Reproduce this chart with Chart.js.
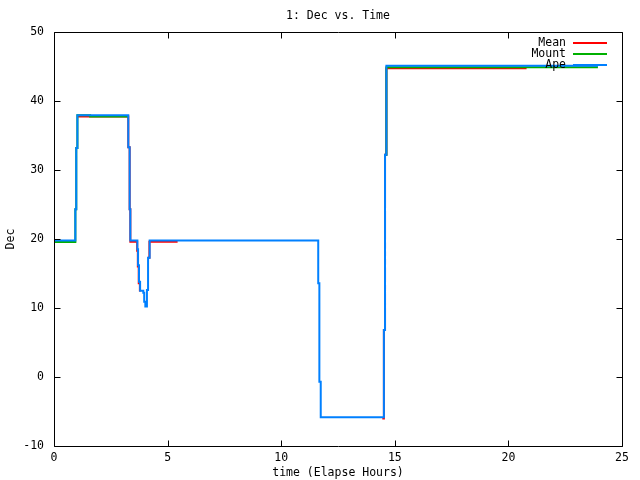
<!DOCTYPE html>
<html>
<head>
<meta charset="utf-8">
<script src="https://cdn.jsdelivr.net/npm/chart.js@4.4.0/dist/chart.umd.min.js"></script>
<style>
html,body{margin:0;padding:0;background:#fff;}
#wrap{width:640px;height:480px;}
</style>
</head>
<body>
<div id="wrap"><canvas id="c" width="640" height="480"></canvas></div>
<script>
const chartTitle = "1: Dec vs. Time";
const xTitle = "time (Elapse Hours)";
const yTitle = "Dec";
const seriesNames = ["Mean", "Mount", "Ape"];
const seriesColors = ["#ff0000", "#00b000", "#0080ff"];

// Ape (blue) — time (hours) and Dec at each change
const apeTime = [0, 0.94, 0.98, 1.03, 3.27, 3.33, 3.36, 3.67, 3.70, 3.74, 3.79, 3.93, 3.97, 4.02, 4.09, 4.14, 4.21, 11.63, 11.68, 11.74, 14.52, 14.57, 14.63, 23.94];
const apeDec  = [19.8, 24.3, 33.2, 37.95, 33.3, 24.3, 19.8, 18.5, 16.2, 13.8, 12.5, 12.2, 10.9, 10.2, 12.6, 17.3, 19.8, 13.6, -0.7, -5.85, 6.8, 32.2, 45.1, 45.1];

// Mount (green); null = no data
const mountTime = [0, 0.94, 0.98, 1.03, 1.59, 3.27, 3.30, 14.57, 14.63, 23.94];
const mountDec  = [19.55, 24.3, 33.2, 37.95, 37.75, 37.75, null, 32.2, 44.9, 44.9];

// Mean (red); null = no data
const meanTime = [1.03, 3.27, 3.33, 3.36, 3.66, 3.69, 3.73, 3.78, 3.80, 4.13, 4.20, 5.44, 5.46, 14.45, 14.52, 14.57, 14.63, 20.8];
const meanDec  = [37.75, 33.3, 24.3, 19.6, 18.3, 16.0, 13.6, 12.4, null, 17.3, 19.6, 19.6, null, -6.0, 6.8, 32.2, 44.75, 44.75];

const xTicks = [0, 5, 10, 15, 20, 25];
const yTicks = [-10, 0, 10, 20, 30, 40, 50];

const FONT = "'DejaVu Sans Mono', 'Liberation Mono', monospace";

function pts(t, v) { return t.map((x, i) => ({ x: x, y: v[i] })); }

const datasets = [
  { label: seriesNames[0], data: pts(meanTime, meanDec), borderColor: seriesColors[0], order: 3 },
  { label: seriesNames[1], data: pts(mountTime, mountDec), borderColor: seriesColors[1], order: 2 },
  { label: seriesNames[2], data: pts(apeTime, apeDec), borderColor: seriesColors[2], order: 1 }
].map(d => Object.assign(d, { stepped: 'before', borderWidth: 2, pointRadius: 0, fill: false, spanGaps: false, tension: 0 }));

const framePlugin = {
  id: 'frame',
  afterDraw(chart) {
    const ctx = chart.ctx, a = chart.chartArea;
    const xs = chart.scales.x, ys = chart.scales.y;
    ctx.save();
    ctx.strokeStyle = '#000';
    ctx.lineWidth = 1;
    const L = Math.round(a.left) + 0.5, R = Math.round(a.right) + 0.5;
    const T = Math.round(a.top) + 0.5, B = Math.round(a.bottom) + 0.5;
    ctx.beginPath();
    ctx.rect(L, T, R - L, B - T);
    const tl = 6;
    xTicks.forEach(v => {
      const px = Math.round(xs.getPixelForValue(v)) + 0.5;
      ctx.moveTo(px, B); ctx.lineTo(px, B - tl);
      ctx.moveTo(px, T); ctx.lineTo(px, T + tl);
    });
    yTicks.forEach(v => {
      const py = Math.round(ys.getPixelForValue(v)) + 0.5;
      ctx.moveTo(L, py); ctx.lineTo(L + tl, py);
      ctx.moveTo(R, py); ctx.lineTo(R - tl, py);
    });
    ctx.stroke();

    // title
    ctx.fillStyle = '#000';
    ctx.font = '11.5px ' + FONT;
    ctx.textAlign = 'center';
    ctx.textBaseline = 'middle';
    ctx.fillText(chartTitle, (a.left + a.right) / 2, 16);

    // legend
    ctx.textAlign = 'right';
    chart.data.datasets.forEach((d, i) => {
      const y = 43 + i * 11;
      ctx.fillStyle = '#000';
      ctx.fillText(d.label, 566, y);
      ctx.strokeStyle = d.borderColor;
      ctx.lineWidth = 2;
      ctx.beginPath();
      ctx.moveTo(573, y);
      ctx.lineTo(607, y);
      ctx.stroke();
    });
    ctx.restore();
  }
};

new Chart(document.getElementById('c'), {
  type: 'line',
  data: { datasets: datasets },
  options: {
    responsive: false,
    animation: false,
    layout: { padding: { top: 32, right: 18, left: 0, bottom: 0 } },
    plugins: { legend: { display: false }, title: { display: false }, tooltip: { enabled: false } },
    scales: {
      x: {
        type: 'linear', min: 0, max: 25,
        afterBuildTicks(s) { s.ticks = xTicks.map(v => ({ value: v })); },
        afterFit(s) { s.height = 34; },
        grid: { display: false, drawTicks: false },
        border: { display: false },
        ticks: { color: '#000', font: { family: FONT, size: 11.5 }, padding: 5, maxRotation: 0, autoSkip: false },
        title: { display: true, text: xTitle, color: '#000', font: { family: FONT, size: 11.5 }, padding: { top: 0, bottom: 0 } }
      },
      y: {
        type: 'linear', min: -10, max: 50,
        afterBuildTicks(s) { s.ticks = yTicks.map(v => ({ value: v })); },
        afterFit(s) { s.width = 54; },
        grid: { display: false, drawTicks: false },
        border: { display: false },
        ticks: { color: '#000', font: { family: FONT, size: 11.5 }, padding: 10, autoSkip: false },
        title: { display: true, text: yTitle, color: '#000', font: { family: FONT, size: 11.5 }, padding: { top: 4, bottom: 4 } }
      }
    }
  },
  plugins: [framePlugin]
});
</script>
</body>
</html>
